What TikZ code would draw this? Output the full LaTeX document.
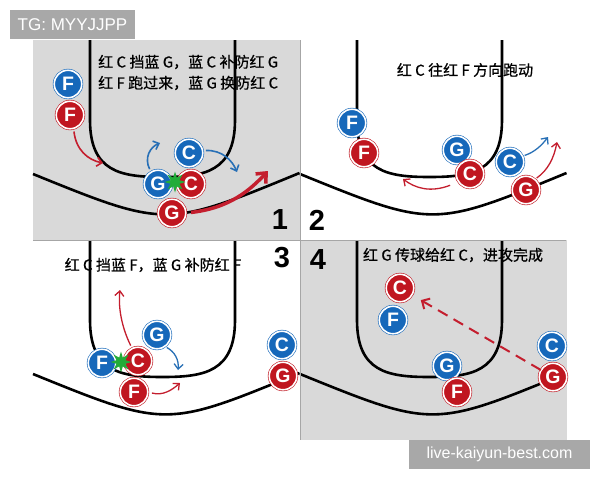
\documentclass[tikz,border=0pt]{standalone}
\usepackage{fontspec}
\setmainfont{Liberation Sans}
\newfontfamily\cjk[FakeBold=0.7]{Noto Sans CJK SC}
\usetikzlibrary{shapes.geometric,arrows.meta,calc}
\definecolor{courtgray}{RGB}{217,217,217}
\definecolor{pblue}{RGB}{22,104,186}
\definecolor{pred}{RGB}{192,22,32}
\definecolor{mred}{RGB}{196,30,46}
\definecolor{mblue}{RGB}{40,112,182}
\definecolor{markgray}{RGB}{168,168,168}
\definecolor{sgreen}{RGB}{34,172,56}

\newcommand{\halfcourt}[3]{%
  \begin{scope}[shift={(#1,#2)}]
    \fill[#3] (0,0) rectangle (266.5,200);
    \draw[courtline] (57,0) -- (57,80) .. controls (57,132) and (88,137) .. (129.5,137)
      .. controls (171,137) and (202,132) .. (202,80) -- (202,0);
    \draw[courtline] (0,134) .. controls (133,188) .. (266.5,133);
  \end{scope}}

\begin{document}
\begin{tikzpicture}[x=1pt,y=-1pt,
  courtline/.style={black,line width=2.6pt},
  player/.style={circle,minimum size=27.5pt,inner sep=0pt,draw=#1,double=white,
    double distance=1.6pt,line width=0.6pt,fill=#1,text=white,
    font=\fontsize{19.5}{19.5}\selectfont\bfseries},
  bp/.style={player=pblue},
  rp/.style={player=pred},
  screen/.style={star,star points=8,star point ratio=2.2,fill=sgreen,
    minimum size=21pt,inner sep=0pt},
  note/.style={font=\cjk\fontsize{15}{21}\selectfont,inner sep=0pt},
  num/.style={font=\fontsize{29}{29}\selectfont\bfseries,inner sep=0pt},
  mvred/.style={mred,line width=1.6pt,-{Straight Barb[length=5pt,width=9pt]}},
  mvblue/.style={mblue,line width=1.6pt,-{Straight Barb[length=5pt,width=9pt]}},
  wmark/.style={fill=markgray,text=white,inner sep=0pt,font=\fontsize{17}{17}\selectfont}
]
\useasboundingbox (0,0) rectangle (600,480);
\fill[white] (0,0) rectangle (600,480);

\halfcourt{33}{40}{courtgray}
\halfcourt{300}{40}{white}
\halfcourt{33}{240}{white}
\halfcourt{300}{240}{courtgray}
\draw[gray!70,line width=1pt] (33,240) -- (566,240);
\draw[gray!70,line width=1pt] (300,40) -- (300,440);

% panel 1
\node[note,anchor=west,align=left] (t1) at (98,72.5)
  {红 C 挡蓝 G，蓝 C 补防红 G\\红 F 跑过来，蓝 G 换防红 C};
\node[bp] (p1bF) at (68,84) {F};
\node[rp] (p1rF) at (70,115) {F};
\node[bp] (p1bC) at (189,153) {C};
\node[bp] (p1bG) at (158,184) {G};
\node[rp] (p1rC) at (191,184) {C};
\node[rp] (p1rG) at (172,213) {G};
\node[screen] (p1s) at (175,182) {};
\coordinate (p1fEnd) at (103,163);
\coordinate (p1gEnd) at (160,143);
\coordinate (p1cEnd) at (237,172);
\coordinate (p1rEnd) at (268,171);
\draw[mvred,shorten <=3pt] (p1rF.-75) .. controls (76,150) and (88,160) .. (p1fEnd);
\draw[mvblue,shorten <=3pt] (p1bG.120) .. controls (144,158) and (150,147) .. (p1gEnd);
\draw[mvblue,shorten <=3pt] (p1bC.10) .. controls (222,150) and (232,160) .. (p1cEnd);
\draw[mred,line width=3.5pt,shorten <=5pt,-{Straight Barb[length=8pt,width=14pt]}]
  (p1rG.east) .. controls (230,208) and (250,190) .. (p1rEnd);
\node[num] (n1) at (280,220) {1};

% panel 2
\node[note] (t2) at (465,70) {红 C 往红 F 方向跑动};
\node[bp] (p2bF) at (352,123) {F};
\node[rp] (p2rF) at (364,153) {F};
\node[bp] (p2bG) at (457,150) {G};
\node[rp] (p2rC) at (470,174) {C};
\node[bp] (p2bC) at (510,162) {C};
\node[rp] (p2rG) at (526,190) {G};
\coordinate (p2cEnd) at (403,179);
\coordinate (p2bEnd) at (548,137);
\coordinate (p2gEnd) at (557,142);
\draw[mvred,line width=1.3pt,shorten <=9pt] (p2rC.-145) .. controls (430,193) and (415,188) .. (p2cEnd);
\draw[mvblue,line width=1.3pt,shorten <=2pt] (p2bC.25) .. controls (535,152) and (542,145) .. (p2bEnd);
\draw[mvred,line width=1.3pt,shorten <=2pt] (p2rG.50) .. controls (548,170) and (554,158) .. (p2gEnd);
\node[num] (n2) at (317,220) {2};

% panel 3
\node[note] (t3) at (153,265) {红 C 挡蓝 F，蓝 G 补防红 F};
\node[bp] (p3bF) at (102,363) {F};
\node[rp] (p3rC) at (138,361) {C};
\node[bp] (p3bG) at (157,335) {G};
\node[rp] (p3rF) at (134,392) {F};
\node[bp] (p3bC) at (282,345) {C};
\node[rp] (p3rG) at (283,376) {G};
\node[screen] (p3s) at (121,362) {};
\coordinate (p3cEnd) at (120,290);
\coordinate (p3gEnd) at (178,370);
\coordinate (p3fEnd) at (180,383);
\draw[mvred,line width=1.3pt,shorten <=3pt] (p3rC.115) .. controls (122,328) and (118,308) .. (p3cEnd);
\draw[mvblue,line width=1.3pt,shorten <=2pt] (p3bG.-55) .. controls (175,352) and (179,360) .. (p3gEnd);
\draw[mvred,line width=1.3pt,shorten <=4pt] (p3rF.east) .. controls (163,396) and (172,390) .. (p3fEnd);
\node[num] (n3) at (282,258) {3};

% panel 4
\node[note] (t4) at (453,255) {红 G 传球给红 C，进攻完成};
\node[rp] (p4rC) at (400,288) {C};
\node[bp] (p4bF) at (393,320) {F};
\node[bp] (p4bG) at (447,366) {G};
\node[rp] (p4rF) at (457,392) {F};
\node[bp] (p4bC) at (552,346) {C};
\node[rp] (p4rG) at (553,377) {G};
\draw[mred,line width=2pt,dash pattern=on 11pt off 7pt,shorten >=10pt,
  -{Straight Barb[length=6pt,width=12pt]}] (p4rG.150) -- (p4rC);
\node[num] (n4) at (318,260) {4};

% watermarks
\node[wmark,minimum width=125pt,minimum height=29pt] (tg) at (72.5,24.5) {TG: MYYJJPP};
\node[wmark,minimum width=181pt,minimum height=29pt,font=\fontsize{16}{16}\selectfont]
  (site) at (499.5,454.5) {live-kaiyun-best.com};
\end{tikzpicture}
\end{document}
